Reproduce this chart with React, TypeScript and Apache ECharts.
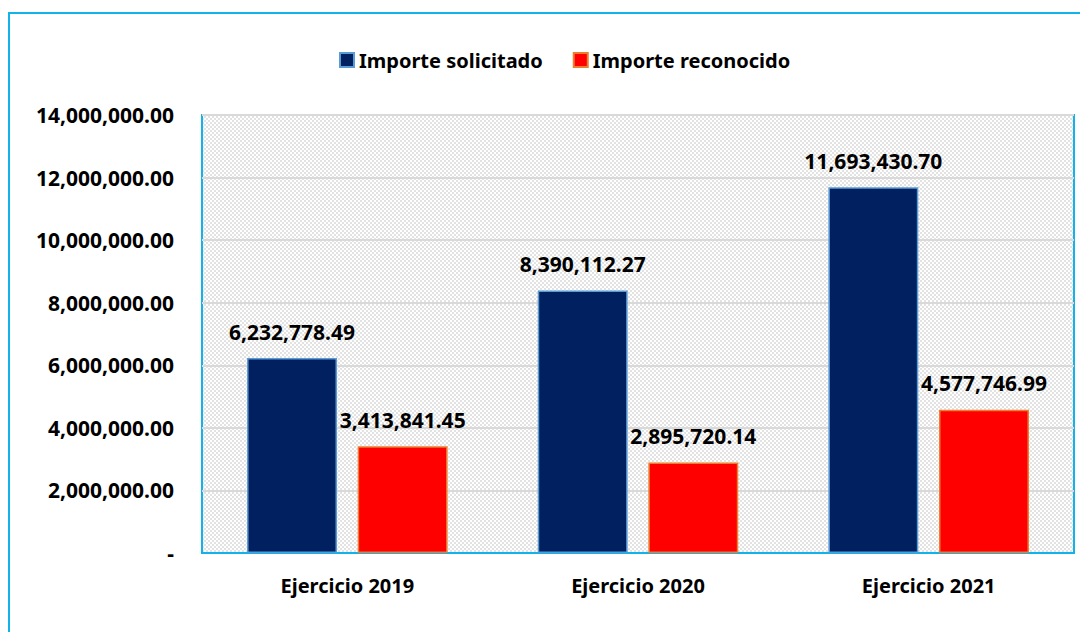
import React, { useEffect, useRef } from "react";
import * as echarts from "echarts";

const categories = ["Ejercicio 2019", "Ejercicio 2020", "Ejercicio 2021"];
const solicitado = [6232778.49, 8390112.27, 11693430.7];
const reconocido = [3413841.45, 2895720.14, 4577746.99];
const seriesNames = ["Importe solicitado", "Importe reconocido"];

const FONT = "'Noto Sans', 'Open Sans', sans-serif";

function fmt(v: number): string {
  if (v === 0) return "-";
  return v.toLocaleString("en-US", { minimumFractionDigits: 2, maximumFractionDigits: 2 });
}

function makePattern(): HTMLCanvasElement {
  const c = document.createElement("canvas");
  c.width = 4;
  c.height = 4;
  const ctx = c.getContext("2d")!;
  ctx.fillStyle = "#ffffff";
  ctx.fillRect(0, 0, 4, 4);
  ctx.fillStyle = "#e2e2e2";
  ctx.fillRect(0, 0, 2, 2);
  ctx.fillRect(2, 2, 2, 2);
  return c;
}

export default function App() {
  const ref = useRef<HTMLDivElement>(null);
  useEffect(() => {
    document.body.style.overflow = "hidden";
    const chart = echarts.init(ref.current!, null, { renderer: "svg" });
    const labelStyle = {
      show: true,
      position: "top" as const,
      distance: 16,
      fontFamily: FONT,
      fontWeight: "bold" as const,
      fontSize: 21,
      color: "#000",
      formatter: (p: any) => fmt(p.value),
    };
    chart.setOption({
      animation: false,
      textStyle: { fontFamily: FONT },
      legend: {
        top: 37,
        left: 326,
        itemGap: 30,
        itemWidth: 14,
        itemHeight: 14,
        icon: "rect",
        textStyle: { fontFamily: FONT, fontWeight: "bold", fontSize: 20, color: "#000" },
        data: seriesNames,
      },
      grid: {
        left: 194,
        right: 14,
        top: 107,
        bottom: 79,
        show: true,
        borderColor: "#12b2ea",
        borderWidth: 2,
        backgroundColor: { image: makePattern(), repeat: "repeat" },
      },
      xAxis: {
        type: "category",
        data: categories,
        axisTick: { show: false },
        axisLine: { show: true, lineStyle: { color: "#12b2ea", width: 2 } },
        axisLabel: { fontFamily: FONT, fontWeight: "bold", fontSize: 20, color: "#000", margin: 22 },
      },
      yAxis: {
        type: "value",
        min: 0,
        max: 14000000,
        interval: 2000000,
        axisLine: { show: false },
        axisTick: { show: false },
        splitLine: { lineStyle: { color: "#d9d9d9", width: 2 } },
        axisLabel: {
          fontFamily: FONT,
          fontWeight: "bold",
          fontSize: 21,
          color: "#000",
          margin: 28,
          formatter: (v: number) => fmt(v),
        },
      },
      series: [
        {
          name: seriesNames[0],
          type: "bar",
          data: solicitado,
          barGap: "23%",
          barCategoryGap: "31%",
          itemStyle: { color: "#002060", borderColor: "#5b9bd5", borderWidth: 1.5 },
          label: labelStyle,
        },
        {
          name: seriesNames[1],
          type: "bar",
          data: reconocido,
          itemStyle: { color: "#ff0000", borderColor: "#ed7d31", borderWidth: 1.5 },
          label: labelStyle,
        },
      ],
    });
    return () => chart.dispose();
  }, []);
  return (
    <div style={{ position: "relative", width: 1080, height: 624 }}>
      <div
        style={{
          position: "absolute",
          left: 0,
          top: 4,
          width: 1080,
          height: 620,
          borderTop: "2px solid #12b2ea",
          borderLeft: "2px solid #12b2ea",
          boxSizing: "border-box",
          pointerEvents: "none",
        }}
      />
      <div ref={ref} style={{ position: "absolute", left: 0, top: 0, width: 1080, height: 624 }} />
    </div>
  );
}
